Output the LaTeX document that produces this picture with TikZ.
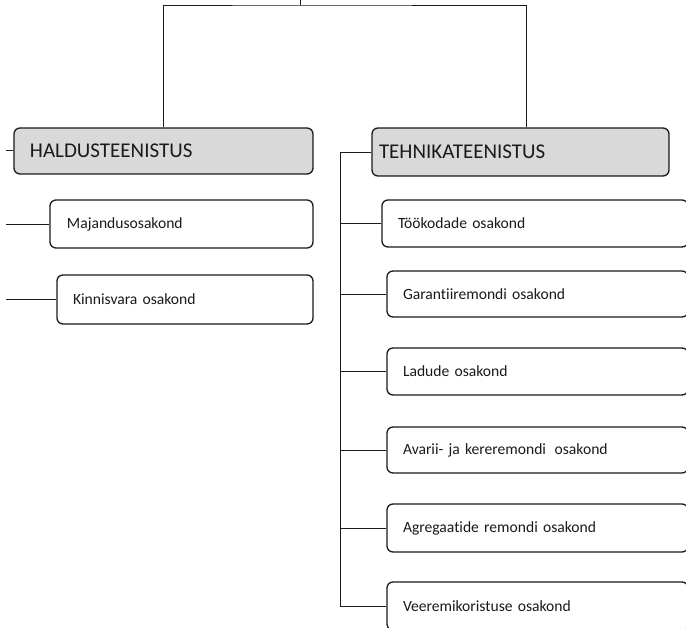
\documentclass[tikz,border=0pt]{standalone}
\usepackage{fontspec}
\setmainfont[RawFeature={-liga;-clig}]{Carlito}
\definecolor{headfill}{HTML}{D9D9D9}
\definecolor{ink}{HTML}{1A1A1A}
\begin{document}
\begin{tikzpicture}[x=1bp,y=-1bp,
  basebox/.style={draw=ink, line width=1.3bp, rounded corners=6bp, rectangle,
     inner ysep=0pt, align=left, anchor=center, text=ink},
  headbox/.style={basebox, fill=headfill, font=\fontsize{21bp}{25bp}\selectfont},
  subbox/.style={basebox, fill=white, font=\fontsize{15.6bp}{19bp}\selectfont},
  conn/.style={draw=ink, line width=0.9bp}]
\useasboundingbox (0,0) rectangle (686,628);
\clip (0,0) rectangle (686,628);

% header boxes
\node[headbox, minimum width=299bp, minimum height=46bp, inner xsep=16bp, text width=267bp] (hald) at (163.5,151) {HALDUSTEENISTUS};
\node[headbox, minimum width=297bp, minimum height=48bp, inner xsep=7bp, text width=283bp] (tehn) at (520.5,152) {TEHNIKATEENISTUS};

% left children
\node[subbox, minimum width=263bp, minimum height=48bp, inner xsep=17bp, text width=229bp] (maj) at (181.5,224) {Majandusosakond};
\node[subbox, minimum width=256bp, minimum height=49bp, inner xsep=16bp, text width=224bp] (kinn) at (185,299.5) {Kinnisvara osakond};

% right children
\node[subbox, minimum width=306bp, minimum height=47bp, inner xsep=16bp, text width=274bp] (took) at (535,223.5) {Töökodade osakond};
\node[subbox, minimum width=301bp, minimum height=46bp, inner xsep=16bp, text width=269bp] (gar) at (537.5,294) {Garantiiremondi osakond};
\node[subbox, minimum width=301bp, minimum height=47bp, inner xsep=16bp, text width=269bp] (lad) at (537.5,371.5) {Ladude osakond};
\node[subbox, minimum width=301bp, minimum height=46bp, inner xsep=16bp, text width=269bp] (ava) at (537.5,450) {Avarii- ja kereremondi\hspace{0.22em} osakond};
\node[subbox, minimum width=301bp, minimum height=48bp, inner xsep=16bp, text width=269bp] (agr) at (537.5,528) {Agregaatide remondi osakond};
\node[subbox, minimum width=301bp, minimum height=48bp, inner xsep=16bp, text width=269bp] (vee) at (537.5,606) {Veeremikoristuse osakond};

% top connectors
\coordinate (topend) at (300,-2);
\coordinate (bar) at (300,5);
\draw[conn] (topend) -- (bar);
\draw[conn] (hald.north) |- (bar) -| ([xshift=5.5bp]tehn.north);

% left stubs
\coordinate (lh) at (6,150);
\coordinate (lm) at (6,224);
\coordinate (lk) at (6,299.5);
\draw[conn] (lh) -- (lh -| hald.west);
\draw[conn] (lm) -- (maj.west);
\draw[conn] (lk) -- (kinn.west);

% right spine
\coordinate (spine) at (340,606);
\draw[conn] (tehn.west) -| (spine) -- (vee.west);
\draw[conn] (took.west) -- (took.west -| spine);
\draw[conn] (gar.west) -- (gar.west -| spine);
\draw[conn] (lad.west) -- (lad.west -| spine);
\draw[conn] (ava.west) -- (ava.west -| spine);
\draw[conn] (agr.west) -- (agr.west -| spine);
\end{tikzpicture}
\end{document}
